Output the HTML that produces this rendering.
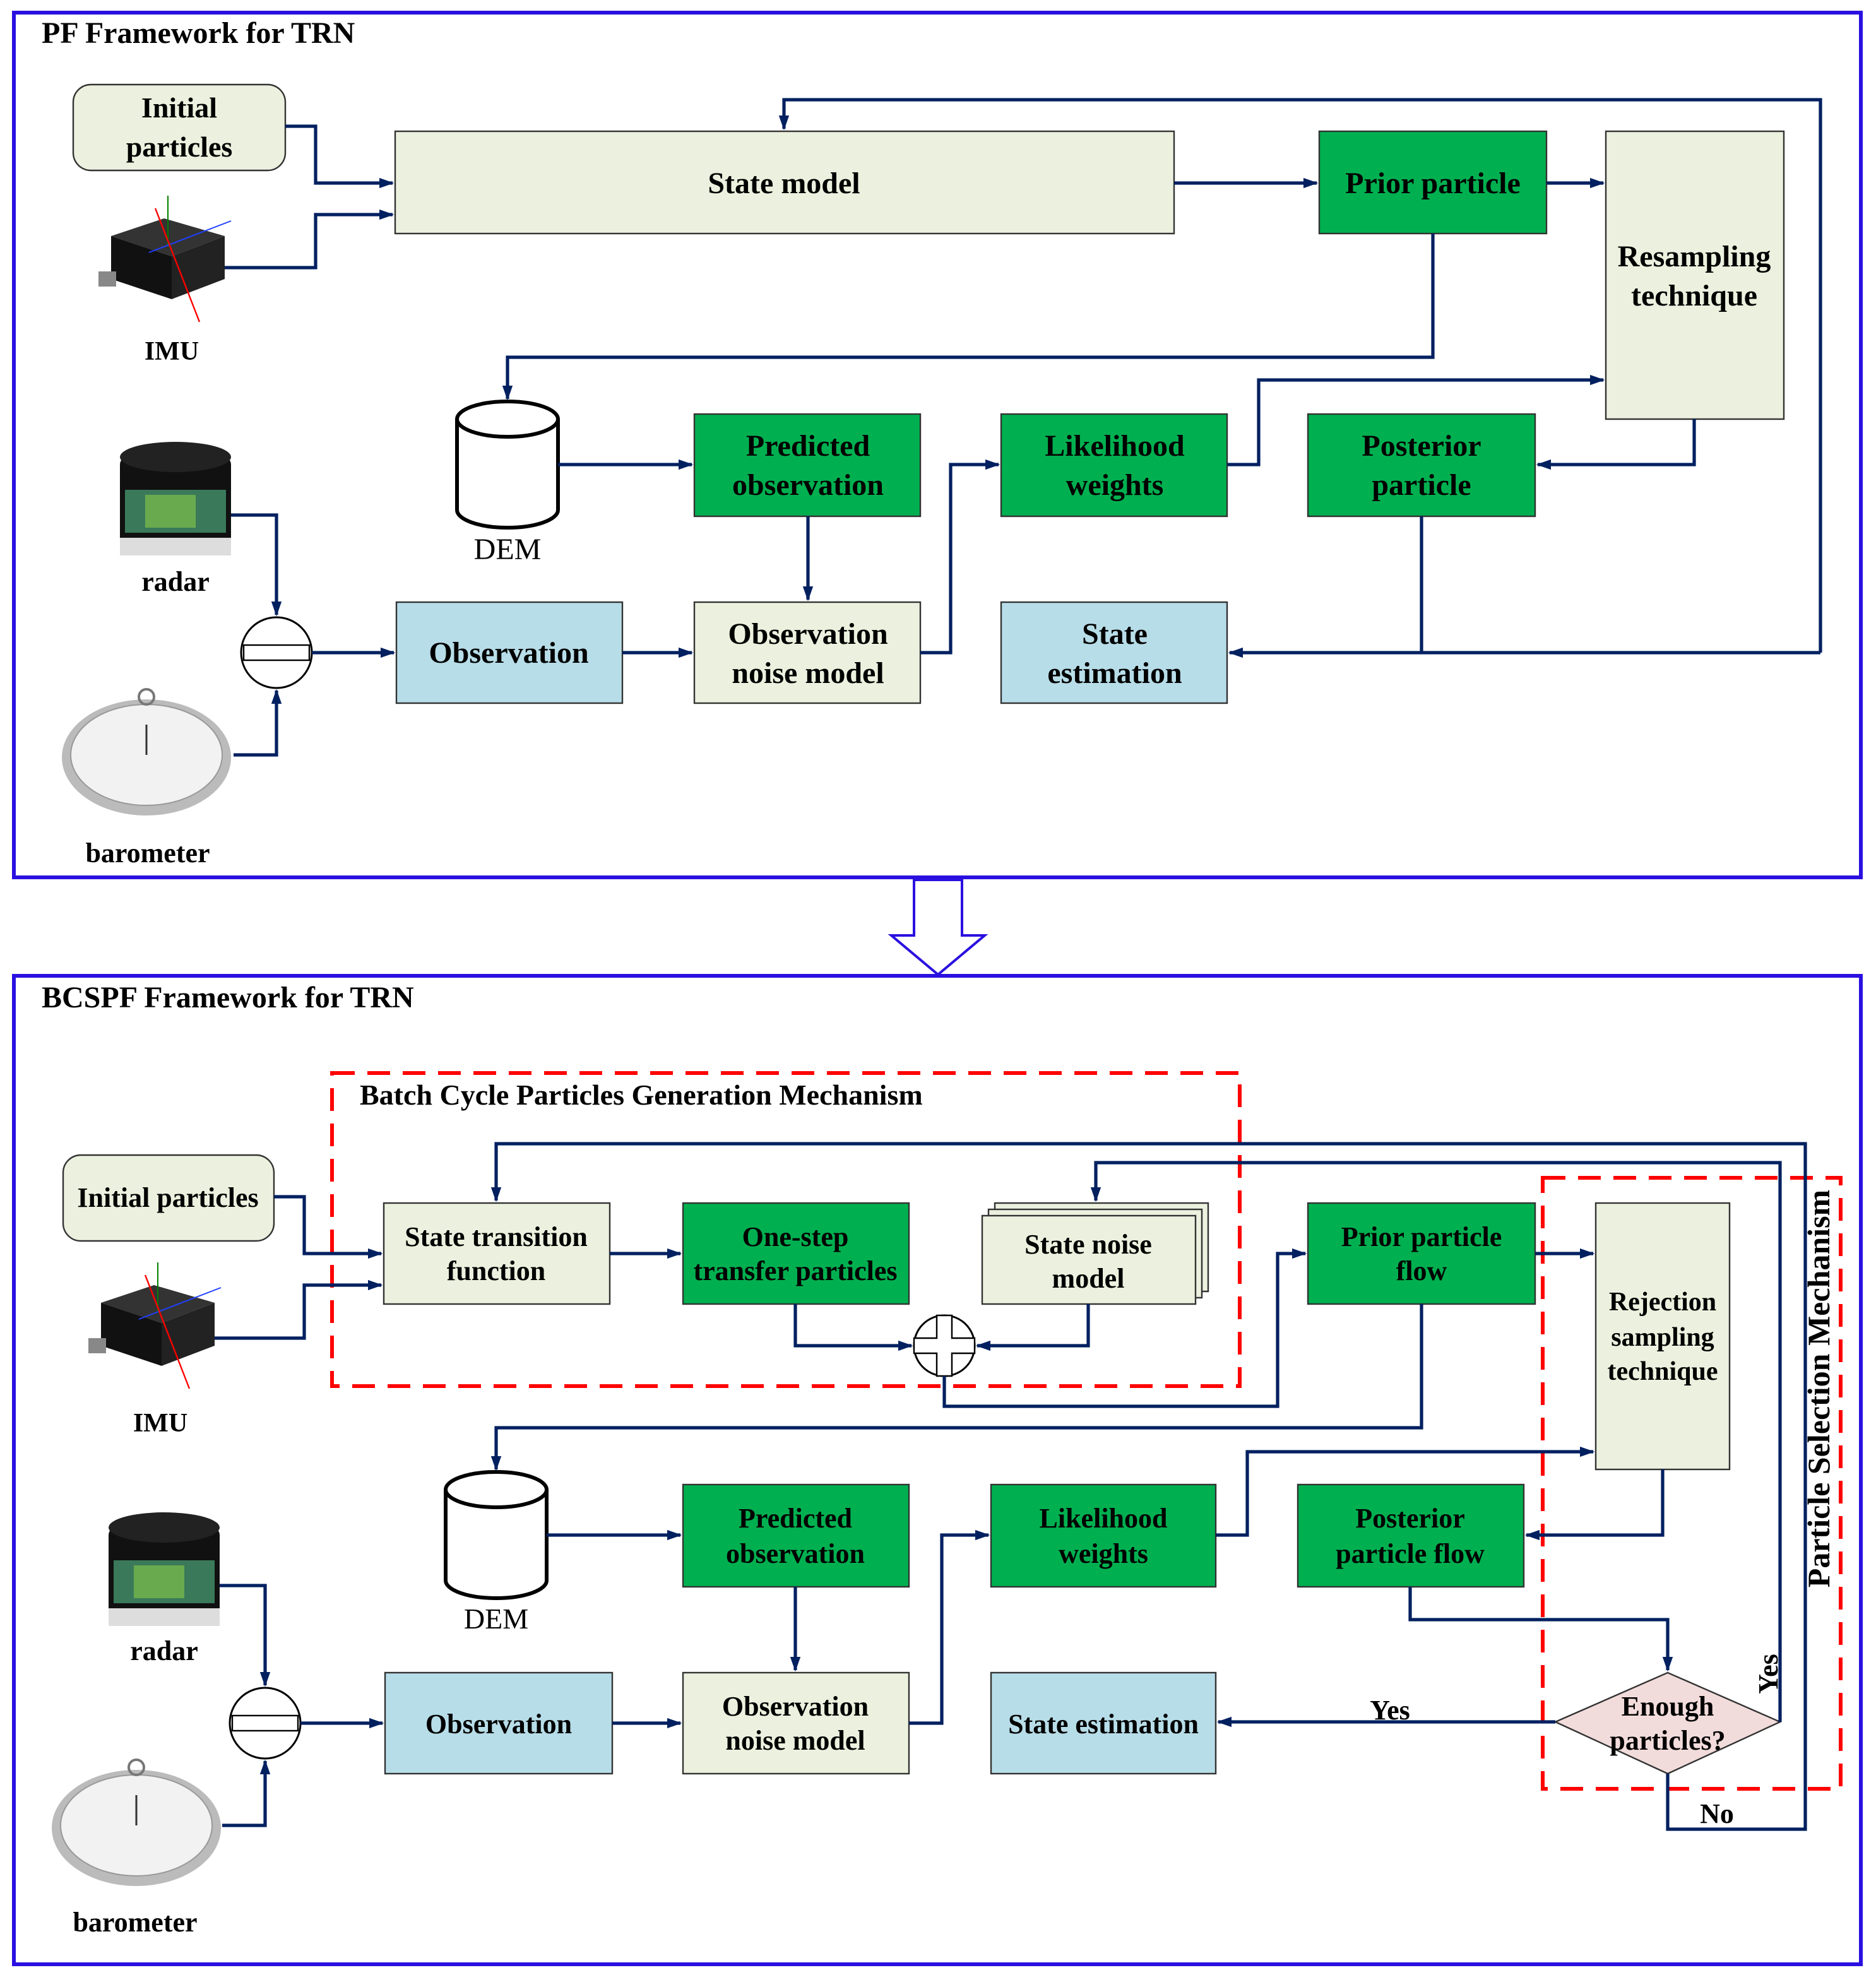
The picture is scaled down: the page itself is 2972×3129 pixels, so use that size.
<!DOCTYPE html>
<html><head><meta charset="utf-8"><style>
html,body{margin:0;padding:0;background:#fff}
svg{display:block}
text{font-family:"Liberation Serif","DejaVu Serif",serif;fill:#000}
.b{font-weight:bold}
.lg{fill:#ebf1de;stroke:#333;stroke-width:1.2}
.gr{fill:#00b050;stroke:#333;stroke-width:1.2}
.bl{fill:#b7dde8;stroke:#333;stroke-width:1.2}
.c{fill:none;stroke:#002060;stroke-width:2.6}
</style></head><body>
<svg width="2972" height="3129" viewBox="0 0 1486 1564.5" xmlns="http://www.w3.org/2000/svg" font-family="Liberation Serif, DejaVu Serif, serif">
<defs>
<marker id="a" viewBox="0 0 10 10" refX="9" refY="5" markerWidth="4.5" markerHeight="4.5" orient="auto" markerUnits="strokeWidth"><path d="M0,1.5 L10,5 L0,8.5 z" fill="#002060"/></marker>
<g id="imu">
<polygon points="0,22 42,8 90,22 48,38" fill="#333"/>
<polygon points="0,22 48,38 48,72 0,56" fill="#111"/>
<polygon points="48,38 90,22 90,56 48,72" fill="#222"/>
<rect x="-10" y="50" width="14" height="12" fill="#888"/>
<line x1="45" y1="-10" x2="45" y2="30" stroke="green" stroke-width="1"/>
<line x1="30" y1="35" x2="95" y2="10" stroke="#2040ff" stroke-width="1"/>
<line x1="35" y1="0" x2="70" y2="90" stroke="red" stroke-width="1.2"/>
</g>
<g id="radar">
<rect x="0" y="12" width="88" height="76" rx="6" fill="#111"/>
<ellipse cx="44" cy="12" rx="44" ry="12" fill="#222"/>
<rect x="4" y="38" width="80" height="34" fill="#3a7a5a"/>
<rect x="20" y="42" width="40" height="26" fill="#7fbf4a" opacity=".7"/>
<rect x="0" y="76" width="88" height="14" fill="#ddd"/>
</g>
<g id="baro">
<ellipse cx="68" cy="52" rx="67" ry="46" fill="#bbb"/>
<ellipse cx="68" cy="50" rx="60" ry="40" fill="#f2f2f2" stroke="#999"/>
<circle cx="68" cy="4" r="6" fill="none" stroke="#777" stroke-width="2"/>
<line x1="68" y1="50" x2="68" y2="26" stroke="#333" stroke-width="1.5"/>
</g>
</defs>

<!-- top frame -->
<rect x="11" y="10" width="1463" height="685" fill="none" stroke="#2a10e0" stroke-width="3"/>
<text x="33" y="34" class="b" font-size="24">PF Framework for TRN</text>

<rect x="58" y="67" width="168" height="68" rx="14" class="lg"/>
<text x="142" y="93" class="b" font-size="23" text-anchor="middle">Initial</text>
<text x="142" y="124" class="b" font-size="23" text-anchor="middle">particles</text>
<use href="#imu" x="88" y="165"/>
<text x="136" y="285" class="b" font-size="21" text-anchor="middle">IMU</text>

<rect x="313" y="104" width="617" height="81" class="lg"/>
<text x="621" y="153" class="b" font-size="24" text-anchor="middle">State model</text>
<rect x="1045" y="104" width="180" height="81" class="gr"/>
<text x="1135" y="153" class="b" font-size="24" text-anchor="middle">Prior particle</text>
<rect x="1272" y="104" width="141" height="228" class="lg"/>
<text x="1342" y="211" class="b" font-size="24" text-anchor="middle">Resampling</text>
<text x="1342" y="242" class="b" font-size="24" text-anchor="middle">technique</text>

<path d="M362,332 L362,404 A40,14 0 0 0 442,404 L442,332" fill="#fff" stroke="#000" stroke-width="3"/>
<ellipse cx="402" cy="332" rx="40" ry="14" fill="#fff" stroke="#000" stroke-width="3"/>
<text x="402" y="443" font-size="24" text-anchor="middle">DEM</text>

<rect x="550" y="328" width="179" height="81" class="gr"/>
<text x="640" y="361" class="b" font-size="24" text-anchor="middle">Predicted</text>
<text x="640" y="392" class="b" font-size="24" text-anchor="middle">observation</text>
<rect x="793" y="328" width="179" height="81" class="gr"/>
<text x="883" y="361" class="b" font-size="24" text-anchor="middle">Likelihood</text>
<text x="883" y="392" class="b" font-size="24" text-anchor="middle">weights</text>
<rect x="1036" y="328" width="180" height="81" class="gr"/>
<text x="1126" y="361" class="b" font-size="24" text-anchor="middle">Posterior</text>
<text x="1126" y="392" class="b" font-size="24" text-anchor="middle">particle</text>

<use href="#radar" x="95" y="350"/>
<text x="139" y="468" class="b" font-size="22" text-anchor="middle">radar</text>
<circle cx="219" cy="517" r="28" fill="#fff" stroke="#000" stroke-width="1.5"/>
<rect x="193" y="511" width="52" height="12" fill="#fff" stroke="#000" stroke-width="1.2"/>
<rect x="314" y="477" width="179" height="80" class="bl"/>
<text x="403" y="525" class="b" font-size="24" text-anchor="middle">Observation</text>
<rect x="550" y="477" width="179" height="80" class="lg"/>
<text x="640" y="510" class="b" font-size="24" text-anchor="middle">Observation</text>
<text x="640" y="541" class="b" font-size="24" text-anchor="middle">noise model</text>
<rect x="793" y="477" width="179" height="80" class="bl"/>
<text x="883" y="510" class="b" font-size="24" text-anchor="middle">State</text>
<text x="883" y="541" class="b" font-size="24" text-anchor="middle">estimation</text>
<use href="#baro" x="48" y="548"/>
<text x="117" y="683" class="b" font-size="22" text-anchor="middle">barometer</text>

<g class="c">
<path d="M226,100 H250 V145 H311" marker-end="url(#a)"/>
<path d="M178,212 H250 V170 H311" marker-end="url(#a)"/>
<path d="M930,145 H1043" marker-end="url(#a)"/>
<path d="M1225,145 H1270" marker-end="url(#a)"/>
<path d="M1135,185 V283 H402 V316" marker-end="url(#a)"/>
<path d="M442,368 H548" marker-end="url(#a)"/>
<path d="M640,409 V475" marker-end="url(#a)"/>
<path d="M729,517 H753 V368 H791" marker-end="url(#a)"/>
<path d="M972,368 H997 V301 H1270" marker-end="url(#a)"/>
<path d="M1342,332 V368 H1218" marker-end="url(#a)"/>
<path d="M1126,409 V517"/>
<path d="M1442,517 H974" marker-end="url(#a)"/>
<path d="M1442,517 V79 H621 V102" marker-end="url(#a)"/>
<path d="M183,408 H219 V487" marker-end="url(#a)"/>
<path d="M185,598 H219 V547" marker-end="url(#a)"/>
<path d="M247,517 H312" marker-end="url(#a)"/>
<path d="M493,517 H548" marker-end="url(#a)"/>
</g>

<!-- big hollow arrow -->
<polygon points="724,697 762,697 762,741 780,741 743,772 706,741 724,741" fill="#fff" stroke="#2a10e0" stroke-width="2"/>

<!-- bottom frame -->
<rect x="11" y="773" width="1463" height="783" fill="none" stroke="#2a10e0" stroke-width="3"/>
<text x="33" y="798" class="b" font-size="24">BCSPF Framework for TRN</text>

<rect x="263" y="850" width="719" height="248" fill="none" stroke="#ff0000" stroke-width="3" stroke-dasharray="18,10"/>
<text x="285" y="875" class="b" font-size="23">Batch Cycle Particles Generation Mechanism</text>
<rect x="1222" y="933" width="236" height="484" fill="none" stroke="#ff0000" stroke-width="3" stroke-dasharray="18,10"/>
<text transform="translate(1449,1100) rotate(-90)" class="b" font-size="25" text-anchor="middle">Particle  Selection Mechanism</text>

<rect x="50" y="915" width="167" height="68" rx="14" class="lg"/>
<text x="133" y="956" class="b" font-size="22" text-anchor="middle">Initial particles</text>
<use href="#imu" x="80" y="1010"/>
<text x="127" y="1134" class="b" font-size="21" text-anchor="middle">IMU</text>

<rect x="304" y="953" width="179" height="80" class="lg"/>
<text x="393" y="987" class="b" font-size="22" text-anchor="middle">State transition</text>
<text x="393" y="1014" class="b" font-size="22" text-anchor="middle">function</text>
<rect x="541" y="953" width="179" height="80" class="gr"/>
<text x="630" y="987" class="b" font-size="22" text-anchor="middle">One-step</text>
<text x="630" y="1014" class="b" font-size="22" text-anchor="middle">transfer particles</text>
<rect x="788" y="953" width="169" height="70" class="lg"/>
<rect x="783" y="958" width="169" height="70" class="lg"/>
<rect x="778" y="963" width="169" height="70" class="lg"/>
<text x="862" y="993" class="b" font-size="22" text-anchor="middle">State noise</text>
<text x="862" y="1020" class="b" font-size="22" text-anchor="middle">model</text>
<circle cx="748" cy="1066" r="24" fill="#fff" stroke="#000" stroke-width="1.5"/>
<path d="M742,1042 H754 V1060 H772 V1072 H754 V1090 H742 V1072 H724 V1060 H742 Z" fill="#fff" stroke="#000" stroke-width="1.2"/>

<rect x="1036" y="953" width="180" height="80" class="gr"/>
<text x="1126" y="987" class="b" font-size="22" text-anchor="middle">Prior particle</text>
<text x="1126" y="1014" class="b" font-size="22" text-anchor="middle">flow</text>
<rect x="1264" y="953" width="106" height="211" class="lg"/>
<text x="1317" y="1038" class="b" font-size="21" text-anchor="middle">Rejection</text>
<text x="1317" y="1066" class="b" font-size="21" text-anchor="middle">sampling</text>
<text x="1317" y="1093" class="b" font-size="21" text-anchor="middle">technique</text>

<path d="M353,1180 L353,1252 A40,14 0 0 0 433,1252 L433,1180" fill="#fff" stroke="#000" stroke-width="3"/>
<ellipse cx="393" cy="1180" rx="40" ry="14" fill="#fff" stroke="#000" stroke-width="3"/>
<text x="393" y="1290" font-size="23" text-anchor="middle">DEM</text>

<rect x="541" y="1176" width="179" height="81" class="gr"/>
<text x="630" y="1210" class="b" font-size="22" text-anchor="middle">Predicted</text>
<text x="630" y="1238" class="b" font-size="22" text-anchor="middle">observation</text>
<rect x="785" y="1176" width="178" height="81" class="gr"/>
<text x="874" y="1210" class="b" font-size="22" text-anchor="middle">Likelihood</text>
<text x="874" y="1238" class="b" font-size="22" text-anchor="middle">weights</text>
<rect x="1028" y="1176" width="179" height="81" class="gr"/>
<text x="1117" y="1210" class="b" font-size="22" text-anchor="middle">Posterior</text>
<text x="1117" y="1238" class="b" font-size="22" text-anchor="middle">particle flow</text>

<use href="#radar" x="86" y="1198"/>
<text x="130" y="1315" class="b" font-size="22" text-anchor="middle">radar</text>
<circle cx="210" cy="1365" r="28" fill="#fff" stroke="#000" stroke-width="1.5"/>
<rect x="184" y="1359" width="52" height="12" fill="#fff" stroke="#000" stroke-width="1.2"/>
<rect x="305" y="1325" width="180" height="80" class="bl"/>
<text x="395" y="1373" class="b" font-size="22" text-anchor="middle">Observation</text>
<rect x="541" y="1325" width="179" height="80" class="lg"/>
<text x="630" y="1359" class="b" font-size="22" text-anchor="middle">Observation</text>
<text x="630" y="1386" class="b" font-size="22" text-anchor="middle">noise model</text>
<rect x="785" y="1325" width="178" height="80" class="bl"/>
<text x="874" y="1373" class="b" font-size="22" text-anchor="middle">State estimation</text>
<polygon points="1232,1364 1321,1325 1410,1364 1321,1405" fill="#f2dcdb" stroke="#333" stroke-width="1.2"/>
<text x="1321" y="1359" class="b" font-size="22" text-anchor="middle">Enough</text>
<text x="1321" y="1386" class="b" font-size="22" text-anchor="middle">particles?</text>
<use href="#baro" x="40" y="1396"/>
<text x="107" y="1530" class="b" font-size="22" text-anchor="middle">barometer</text>

<text x="1101" y="1362" class="b" font-size="22" text-anchor="middle">Yes</text>
<text transform="translate(1408,1326) rotate(-90)" class="b" font-size="22" text-anchor="middle">Yes</text>
<text x="1360" y="1444" class="b" font-size="22" text-anchor="middle">No</text>

<g class="c">
<path d="M217,948 H241 V993 H302" marker-end="url(#a)"/>
<path d="M170,1060 H241 V1018 H302" marker-end="url(#a)"/>
<path d="M483,993 H539" marker-end="url(#a)"/>
<path d="M630,1033 V1066 H722" marker-end="url(#a)"/>
<path d="M862,1033 V1066 H774" marker-end="url(#a)"/>
<path d="M748,1090 V1114 H1012 V993 H1034" marker-end="url(#a)"/>
<path d="M1216,993 H1262" marker-end="url(#a)"/>
<path d="M1126,1033 V1131 H393 V1164" marker-end="url(#a)"/>
<path d="M433,1216 H539" marker-end="url(#a)"/>
<path d="M630,1257 V1323" marker-end="url(#a)"/>
<path d="M720,1365 H746 V1216 H783" marker-end="url(#a)"/>
<path d="M963,1216 H988 V1150 H1262" marker-end="url(#a)"/>
<path d="M1317,1164 V1216 H1209" marker-end="url(#a)"/>
<path d="M1117,1257 V1283 H1321 V1323" marker-end="url(#a)"/>
<path d="M1232,1364 H965" marker-end="url(#a)"/>
<path d="M1410,1364 V921 H868 V951" marker-end="url(#a)"/>
<path d="M1321,1405 V1449 H1430 V906 H393 V951" marker-end="url(#a)"/>
<path d="M174,1256 H210 V1335" marker-end="url(#a)"/>
<path d="M176,1446 H210 V1395" marker-end="url(#a)"/>
<path d="M238,1365 H303" marker-end="url(#a)"/>
<path d="M485,1365 H539" marker-end="url(#a)"/>
</g>
</svg>
</body></html>
